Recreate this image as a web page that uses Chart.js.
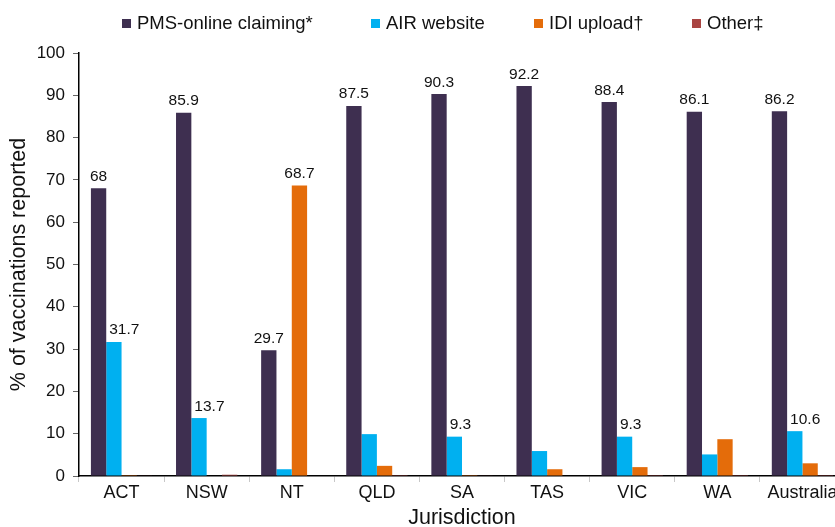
<!DOCTYPE html>
<html>
<head>
<meta charset="utf-8">
<script src="https://cdn.jsdelivr.net/npm/chart.js@4"></script>
<style>
  body { margin: 0; background: #fff; overflow: hidden; }
  #wrap { position: relative; width: 850px; height: 527px; }
  #legend { position: absolute; top: 0; left: 0; font-family: "Liberation Sans", Arial, sans-serif; font-size: 18.5px; color: #111; }
  #legend .item { position: absolute; top: 12px; display: flex; align-items: center; white-space: nowrap; }
  #legend .box { width: 9px; height: 9px; margin-right: 6px; }
</style>
</head>
<body>
<div id="wrap">
  <canvas id="chart" width="850" height="527"></canvas>
  <div id="legend"></div>
</div>
<script>
// Jurisdictions on the x axis
const categories = ['ACT', 'NSW', 'NT', 'QLD', 'SA', 'TAS', 'VIC', 'WA', 'Australia'];
const seriesNames = ['PMS-online claiming*', 'AIR website', 'IDI upload\u2020', 'Other\u2021'];
const seriesColors = ['#3e2f50', '#00b0f0', '#e46c0a', '#a94442'];

// % of vaccinations reported
const pmsOnline = [68, 85.9, 29.7, 87.5, 90.3, 92.2, 88.4, 86.1, 86.2];
const airWebsite = [31.7, 13.7, 1.6, 9.9, 9.3, 5.9, 9.3, 5.1, 10.6];
const idiUpload = [0.2, 0, 68.7, 2.4, 0.2, 1.6, 2.1, 8.7, 3.0];
const other = [0.1, 0.3, 0, 0.2, 0.1, 0, 0.2, 0.2, 0.2];

// only some bars carry a value label
const pmsLabels = ['68', '85.9', '29.7', '87.5', '90.3', '92.2', '88.4', '86.1', '86.2'];
const airLabels = ['31.7', '13.7', null, null, '9.3', null, '9.3', null, '10.6'];
const idiLabels = [null, null, '68.7', null, null, null, null, null, null];
const otherLabels = [null, null, null, null, null, null, null, null, null];

const yTicks = [0, 10, 20, 30, 40, 50, 60, 70, 80, 90, 100];

const seriesData = [pmsOnline, airWebsite, idiUpload, other];
const seriesLabels = [pmsLabels, airLabels, idiLabels, otherLabels];

const FONT = '"Liberation Sans", Arial, sans-serif';

// html legend, items placed like the original
const legendX = [122, 371, 534, 692];
const legendEl = document.getElementById('legend');
seriesNames.forEach((name, i) => {
    const item = document.createElement('div');
    item.className = 'item';
    item.style.left = legendX[i] + 'px';
    const box = document.createElement('span');
    box.className = 'box';
    box.style.background = seriesColors[i];
    const txt = document.createElement('span');
    txt.textContent = name;
    item.appendChild(box);
    item.appendChild(txt);
    legendEl.appendChild(item);
});

const valueLabels = {
    id: 'valueLabels',
    afterDatasetsDraw(chart) {
        const ctx = chart.ctx;
        ctx.save();
        ctx.font = '15.5px ' + FONT;
        ctx.fillStyle = '#111';
        ctx.textBaseline = 'bottom';
        chart.data.datasets.forEach((ds, d) => {
            const meta = chart.getDatasetMeta(d);
            meta.data.forEach((bar, i) => {
                const txt = seriesLabels[d][i];
                if (!txt) return;
                if (d === 1) {
                    // AIR labels sit off to the right so they clear the tall bar
                    ctx.textAlign = 'left';
                    ctx.fillText(txt, bar.x - bar.width / 2 + 3, bar.y - 4);
                } else {
                    ctx.textAlign = 'center';
                    ctx.fillText(txt, bar.x, bar.y - 4);
                }
            });
        });
        ctx.restore();
    }
};

new Chart(document.getElementById('chart').getContext('2d'), {
    type: 'bar',
    data: {
        labels: categories,
        datasets: seriesNames.map((name, i) => ({
            label: name,
            data: seriesData[i],
            backgroundColor: seriesColors[i],
            borderWidth: 0,
            categoryPercentage: 0.72,
            barPercentage: 1
        }))
    },
    options: {
        responsive: false,
        animation: false,
        layout: { padding: { top: 53, right: 5, left: 0, bottom: 0 } },
        plugins: {
            legend: { display: false },
            tooltip: { enabled: false }
        },
        scales: {
            x: {
                afterFit(scale) { scale.height = 51; },
                grid: { offset: true, drawOnChartArea: false, tickLength: 6, color: '#c8c8c8' },
                border: { color: '#000', width: 1.5 },
                ticks: { color: '#111', font: { family: FONT, size: 18 }, padding: 0 },
                title: { display: true, text: 'Jurisdiction', color: '#111', font: { family: FONT, size: 21.5 }, padding: { top: 0, bottom: -4 } }
            },
            y: {
                min: 0,
                max: 100,
                afterFit(scale) { scale.width = 79; },
                afterBuildTicks(scale) { scale.ticks = yTicks.map(v => ({ value: v })); },
                grid: { drawOnChartArea: false, tickLength: 6, color: '#666' },
                border: { color: '#000', width: 1.5 },
                ticks: { color: '#111', font: { family: FONT, size: 17 }, padding: 8 },
                title: { display: true, text: '% of vaccinations reported', color: '#111', font: { family: FONT, size: 21.5 }, padding: { top: 6, bottom: 0 } }
            }
        }
    },
    plugins: [valueLabels]
});
</script>
</body>
</html>
